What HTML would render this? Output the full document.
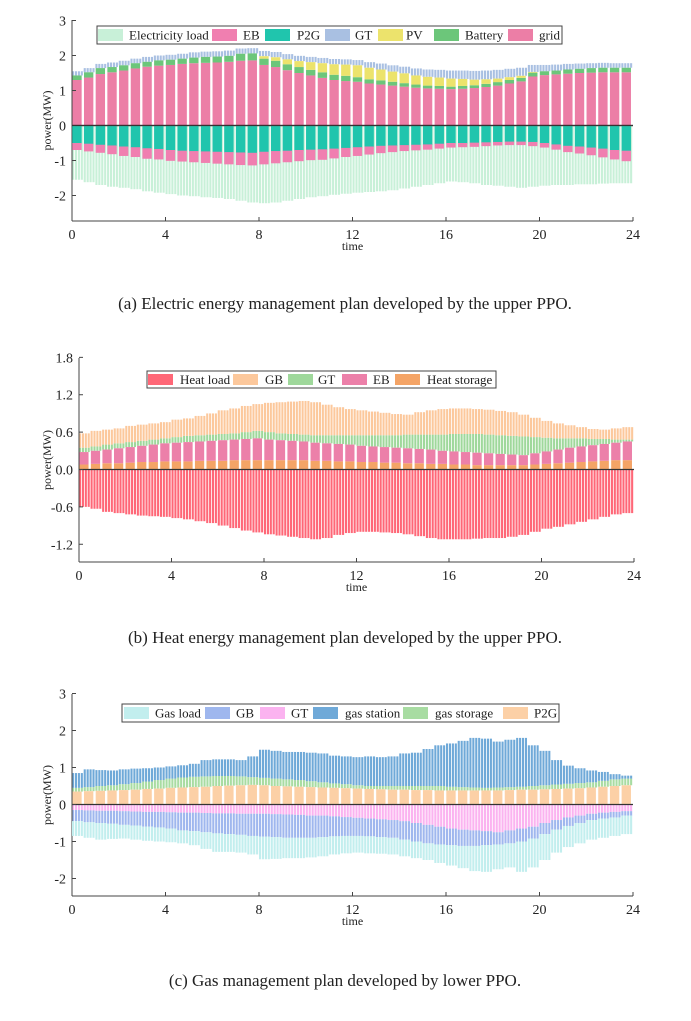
<!DOCTYPE html>
<html><head><meta charset="utf-8"><style>
html,body{margin:0;padding:0;background:#fff;}
svg text{font-family:"Liberation Serif",serif;fill:#222;}
</style></head><body>
<svg id="fig" width="691" height="1016" viewBox="0 0 691 1016" xmlns="http://www.w3.org/2000/svg"></svg>
<script>
// ---------- Chart (a) data: half-hourly values (MW) ----------
const ticksX = [0,4,8,12,16,20,24];
const aTicksY = [3,2,1,0,-1,-2];
const aGrid = [1.30,1.37,1.47,1.52,1.57,1.63,1.68,1.71,1.73,1.76,1.78,1.79,1.80,1.82,1.85,1.86,1.73,1.67,1.58,1.50,1.43,1.36,1.30,1.27,1.25,1.20,1.17,1.14,1.11,1.08,1.06,1.05,1.04,1.05,1.07,1.10,1.14,1.20,1.26,1.40,1.44,1.46,1.48,1.50,1.51,1.52,1.52,1.52];
const aBattery = [0.13,0.15,0.17,0.15,0.15,0.15,0.14,0.15,0.15,0.15,0.16,0.17,0.17,0.17,0.20,0.20,0.18,0.18,0.17,0.17,0.16,0.16,0.15,0.15,0.13,0.12,0.12,0.11,0.10,0.09,0.08,0.08,0.07,0.08,0.08,0.09,0.10,0.10,0.10,0.11,0.11,0.11,0.12,0.12,0.13,0.13,0.13,0.13];
const aPV = [0,0,0,0,0,0,0,0,0,0,0,0,0,0,0,0,0.07,0.10,0.14,0.17,0.22,0.26,0.30,0.32,0.34,0.33,0.31,0.29,0.28,0.26,0.25,0.24,0.23,0.20,0.16,0.13,0.10,0.08,0.06,0.02,0,0,0,0,0,0,0,0];
const aGT = [0.12,0.12,0.12,0.13,0.13,0.13,0.14,0.14,0.14,0.14,0.15,0.15,0.15,0.15,0.15,0.15,0.15,0.15,0.15,0.15,0.15,0.15,0.15,0.15,0.15,0.16,0.17,0.18,0.19,0.20,0.21,0.22,0.23,0.24,0.25,0.25,0.25,0.24,0.23,0.2,0.18,0.17,0.16,0.15,0.14,0.14,0.13,0.13];
const aP2G = [0.50,0.52,0.55,0.57,0.60,0.62,0.65,0.67,0.70,0.72,0.73,0.74,0.75,0.76,0.77,0.78,0.75,0.73,0.72,0.70,0.69,0.68,0.66,0.64,0.62,0.60,0.58,0.57,0.56,0.55,0.54,0.52,0.50,0.50,0.49,0.48,0.47,0.46,0.46,0.47,0.50,0.54,0.58,0.60,0.63,0.66,0.70,0.72];
const aEB = [0.20,0.22,0.23,0.25,0.27,0.28,0.30,0.30,0.31,0.31,0.32,0.33,0.34,0.35,0.36,0.36,0.36,0.35,0.33,0.32,0.30,0.30,0.28,0.26,0.25,0.23,0.21,0.19,0.17,0.16,0.15,0.14,0.13,0.12,0.12,0.11,0.10,0.10,0.10,0.12,0.13,0.15,0.18,0.20,0.22,0.25,0.27,0.30];
const aLoad = [1.55,1.62,1.70,1.75,1.78,1.82,1.88,1.92,1.96,2.00,2.02,2.05,2.07,2.10,2.15,2.20,2.22,2.20,2.15,2.10,2.05,2.02,1.98,1.95,1.92,1.90,1.88,1.85,1.80,1.75,1.70,1.65,1.60,1.62,1.65,1.70,1.72,1.75,1.78,1.75,1.72,1.70,1.70,1.68,1.68,1.66,1.65,1.65];

// ---------- Chart (b) data ----------
const bTicksY = [1.8,1.2,0.6,0.0,-0.6,-1.2];
const bStorage = [0.08,0.09,0.10,0.10,0.11,0.12,0.12,0.13,0.13,0.13,0.14,0.14,0.14,0.15,0.15,0.15,0.15,0.15,0.15,0.15,0.14,0.14,0.13,0.13,0.12,0.12,0.11,0.11,0.10,0.10,0.09,0.09,0.08,0.08,0.07,0.07,0.07,0.07,0.07,0.08,0.09,0.10,0.11,0.12,0.13,0.14,0.15,0.15];
const bEB = [0.20,0.21,0.22,0.24,0.25,0.26,0.28,0.29,0.30,0.31,0.31,0.32,0.33,0.33,0.34,0.35,0.33,0.32,0.31,0.30,0.29,0.28,0.28,0.27,0.26,0.25,0.25,0.24,0.24,0.23,0.23,0.21,0.21,0.20,0.20,0.19,0.18,0.17,0.16,0.18,0.20,0.22,0.24,0.25,0.26,0.27,0.28,0.30];
const bGT = [0.07,0.07,0.08,0.08,0.08,0.08,0.08,0.08,0.09,0.10,0.10,0.10,0.10,0.10,0.11,0.12,0.12,0.11,0.11,0.11,0.12,0.13,0.14,0.15,0.17,0.18,0.19,0.20,0.22,0.23,0.24,0.26,0.28,0.29,0.30,0.30,0.30,0.30,0.30,0.26,0.22,0.18,0.15,0.13,0.10,0.08,0.05,0.03];
const bGB = [0.23,0.25,0.24,0.24,0.26,0.26,0.26,0.26,0.28,0.28,0.31,0.34,0.38,0.40,0.42,0.43,0.47,0.50,0.52,0.54,0.53,0.49,0.45,0.42,0.40,0.38,0.36,0.34,0.32,0.36,0.39,0.41,0.41,0.41,0.40,0.40,0.39,0.38,0.35,0.31,0.27,0.24,0.21,0.18,0.16,0.15,0.18,0.20];
const bLoad = [0.60,0.63,0.68,0.70,0.72,0.74,0.75,0.76,0.78,0.80,0.83,0.86,0.90,0.94,0.98,1.01,1.04,1.06,1.08,1.10,1.12,1.10,1.05,1.02,1.00,1.00,1.01,1.02,1.04,1.07,1.10,1.12,1.12,1.12,1.11,1.10,1.10,1.08,1.05,1.00,0.95,0.92,0.88,0.84,0.80,0.76,0.72,0.70];

// ---------- Chart (c) data ----------
const cTicksY = [3,2,1,0,-1,-2];
const cP2G = [0.35,0.36,0.37,0.38,0.39,0.40,0.42,0.43,0.45,0.46,0.47,0.48,0.50,0.51,0.52,0.53,0.52,0.50,0.49,0.48,0.47,0.46,0.45,0.44,0.43,0.42,0.41,0.40,0.40,0.39,0.39,0.38,0.38,0.38,0.38,0.38,0.38,0.39,0.40,0.40,0.41,0.42,0.43,0.44,0.46,0.48,0.50,0.52];
const cStorage = [0.10,0.11,0.13,0.14,0.16,0.18,0.20,0.23,0.25,0.27,0.28,0.28,0.27,0.26,0.24,0.21,0.20,0.20,0.19,0.18,0.16,0.14,0.12,0.11,0.09,0.08,0.09,0.10,0.10,0.11,0.11,0.12,0.10,0.09,0.08,0.07,0.08,0.08,0.08,0.10,0.11,0.12,0.13,0.14,0.14,0.16,0.18,0.18];
const cStation = [0.40,0.48,0.43,0.40,0.40,0.39,0.36,0.34,0.33,0.33,0.35,0.44,0.45,0.45,0.44,0.56,0.76,0.75,0.74,0.76,0.77,0.78,0.75,0.75,0.76,0.80,0.78,0.80,0.88,0.90,1.00,1.10,1.17,1.25,1.34,1.33,1.24,1.28,1.32,1.10,0.93,0.66,0.49,0.40,0.32,0.24,0.14,0.08];
const cGT = [0.15,0.16,0.17,0.17,0.18,0.19,0.20,0.20,0.21,0.22,0.22,0.23,0.24,0.24,0.25,0.25,0.25,0.26,0.27,0.28,0.30,0.30,0.32,0.34,0.36,0.38,0.40,0.42,0.45,0.50,0.55,0.60,0.65,0.68,0.70,0.72,0.75,0.70,0.65,0.60,0.50,0.42,0.35,0.30,0.25,0.22,0.20,0.18];
const cGB = [0.30,0.32,0.33,0.35,0.37,0.38,0.40,0.42,0.44,0.48,0.50,0.52,0.54,0.56,0.57,0.60,0.62,0.62,0.63,0.62,0.60,0.58,0.54,0.51,0.49,0.48,0.48,0.48,0.50,0.50,0.50,0.48,0.45,0.44,0.42,0.38,0.33,0.35,0.35,0.32,0.30,0.26,0.23,0.20,0.17,0.16,0.15,0.12];
const cLoad = [0.85,0.90,0.95,0.93,0.92,0.95,0.98,1.00,1.02,1.05,1.10,1.20,1.28,1.28,1.30,1.35,1.48,1.47,1.45,1.45,1.43,1.40,1.35,1.32,1.30,1.32,1.33,1.35,1.40,1.45,1.50,1.58,1.65,1.72,1.80,1.82,1.75,1.70,1.82,1.70,1.50,1.30,1.15,1.05,0.95,0.90,0.85,0.80];

const NS = "http://www.w3.org/2000/svg";
const svg = document.getElementById('fig');
function mk(tag, attrs, parent){
  const e = document.createElementNS(NS, tag);
  for (const k in attrs) e.setAttribute(k, attrs[k]);
  (parent||svg).appendChild(e);
  return e;
}

function drawChart(cfg){
  const g = mk('g', {});
  
  
  const xs = t => cfg.x0 + (cfg.x1 - cfg.x0) * t / 24;
  const ys = v => cfg.yZero - v * cfg.ppu;
  const base = {pos: new Array(48).fill(0), neg: new Array(48).fill(0)};
  const layers = [];
  cfg.series.forEach(s => {
    const key = s.sign > 0 ? 'pos' : 'neg';
    const lo = base[key].slice();
    s.vals.forEach((v,i) => base[key][i] += v);
    layers.push({s, lo, hi: base[key].slice()});
  });
  const ordered = layers.filter(l => !l.s.wide).concat(layers.filter(l => l.s.wide));
  ordered.forEach(l => {
    const sg = mk('g', {fill: l.s.color}, g);
    
    
    l.s.vals.forEach((v, i) => {
      const sgn = l.s.sign;
      const y1 = ys(sgn * l.lo[i]), y2 = ys(sgn * l.hi[i]);
      const top = Math.min(y1, y2), h = Math.abs(y2 - y1);
      if (h <= 0) return;
      const t = i * 0.5;
      if (l.s.wide) {
        const r = mk('rect', {x: xs(t) + 0.3, y: top, width: xs(0.4) - xs(0) , height: h}, sg);
        
        
      } else {
        for (let k = 0; k < 4; k++) {
          const r = mk('rect', {x: xs(t + k * 0.125), y: top, width: (xs(0.125) - xs(0)) * 0.72, height: h}, sg);
          
          
        }
      }
    });
  });
  const z = mk('line', {x1: cfg.x0, x2: cfg.x1, y1: cfg.yZero, y2: cfg.yZero, stroke: '#333', 'stroke-width': 1.2}, g);
  
  
  const ax = mk('g', {stroke: '#444', 'stroke-width': 1}, g);
  
  
  mk('line', {x1: cfg.x0, x2: cfg.x0, y1: cfg.yTop, y2: cfg.yBot}, ax);
  mk('line', {x1: cfg.x0, x2: cfg.x1, y1: cfg.yBot, y2: cfg.yBot}, ax);
  cfg.ticksY.forEach(v => {
    mk('line', {x1: cfg.x0, x2: cfg.x0 + 4, y1: ys(v), y2: ys(v)}, ax);
    const tx = mk('text', {x: cfg.x0 - 6, y: ys(v) + 5, 'text-anchor': 'end', 'font-size': 14}, g);
    tx.textContent = cfg.fmt(v);
    
    
  });
  ticksX.forEach(t => {
    mk('line', {x1: xs(t), x2: xs(t), y1: cfg.yBot, y2: cfg.yBot - 4}, ax);
    const tx = mk('text', {x: xs(t), y: cfg.yBot + 18, 'text-anchor': 'middle', 'font-size': 14}, g);
    tx.textContent = t;
    
    
  });
  const xt = mk('text', {x: (cfg.x0 + cfg.x1) / 2, y: cfg.yBot + 29, 'text-anchor': 'middle', 'font-size': 12}, g);
  xt.textContent = 'time';
  
  
  const ymid = (cfg.yTop + cfg.yBot) / 2;
  const yt = mk('text', {x: 51, y: ymid, 'text-anchor': 'middle', 'font-size': 12, transform: `rotate(-90 51 ${ymid})`}, g);
  yt.textContent = 'power(MW)';
  
  
  const lg = mk('g', {}, g);
  
  
  mk('rect', {x: cfg.leg[0], y: cfg.leg[1], width: cfg.leg[2], height: cfg.leg[3], fill: '#fff', stroke: '#444', 'stroke-width': 1}, lg);
  cfg.legItems.forEach(it => {
    const e = mk('g', {}, lg);
    
    
    mk('rect', {x: it[0], y: cfg.leg[1] + 3, width: 25, height: cfg.leg[3] - 6, fill: it[2]}, e);
    const tx = mk('text', {x: it[1], y: cfg.leg[1] + cfg.leg[3] / 2 + 4.5, 'font-size': 13}, e);
    tx.textContent = it[3];
  });
  const cap = mk('text', {x: 345, y: cfg.capY, 'text-anchor': 'middle', 'font-size': 17}, g);
  cap.textContent = cfg.caption;
  
  
}

const C = {load:'#c8f0d8', EB:'#f07fb0', P2G:'#20c5ad', GT:'#a9c0e2', PV:'#ece36c', bat:'#6cc67a', grid:'#ec7ea6'};
drawChart({
  name: 'electric-chart', x0: 72, x1: 633, yTop: 20, yBot: 221, yZero: 125.5, ppu: 35,
  ticksY: aTicksY, fmt: v => String(v),
  series: [
    {vals: aLoad, color: C.load, wide: false, sign: -1, name: 'electricity-load'},
    {vals: aGrid, color: C.grid, wide: true, sign: 1, name: 'grid'},
    {vals: aBattery, color: C.bat, wide: true, sign: 1, name: 'battery'},
    {vals: aPV, color: C.PV, wide: true, sign: 1, name: 'pv'},
    {vals: aGT, color: C.GT, wide: false, sign: 1, name: 'gt'},
  ],
  leg: [97, 26, 465, 18],
  legItems: [[98,129,C.load,'Electricity load'],[212,243,C.EB,'EB'],[265,297,C.P2G,'P2G'],[325,355,C.GT,'GT'],[378,406,C.PV,'PV'],[434,465,C.bat,'Battery'],[508,539,C.grid,'grid']],
  capY: 309, caption: '(a) Electric energy management plan developed by the upper PPO.'
});
(function(){
  const x0=72,x1=633,yZero=125.5,ppu=35;
  const xs=t=>x0+(x1-x0)*t/24, ys=v=>yZero-v*ppu;
  const g = mk('g', {});
  
  
  aP2G.forEach((v,i)=>{
    const r = mk('rect',{x:xs(i*0.5)+0.3,y:yZero+0.6,width:xs(0.4)-xs(0),height:v*ppu,fill:C.P2G},g);
    
    
    const r2 = mk('rect',{x:xs(i*0.5)+0.3,y:ys(-v),width:xs(0.4)-xs(0),height:aEB[i]*ppu,fill:C.EB},g);
    
    
  });
  mk('line',{x1:x0,x2:x1,y1:yZero,y2:yZero,stroke:'#333','stroke-width':1.2},g);
})();

const H = {load:'#ff6777', GB:'#fcc89c', GT:'#9fd89b', EB:'#ec80a9', st:'#f4a466'};
drawChart({
  name: 'heat-chart', x0: 79, x1: 634, yTop: 358, yBot: 562, yZero: 469.5, ppu: 62.3,
  ticksY: bTicksY, fmt: v => v.toFixed(1),
  series: [
    {vals: bLoad, color: H.load, wide: false, sign: -1, name: 'heat-load'},
    {vals: bStorage, color: H.st, wide: true, sign: 1, name: 'heat-storage'},
    {vals: bEB, color: H.EB, wide: true, sign: 1, name: 'eb'},
    {vals: bGT, color: H.GT, wide: false, sign: 1, name: 'gt'},
    {vals: bGB, color: H.GB, wide: false, sign: 1, name: 'gb'},
  ],
  leg: [147, 371, 349, 17],
  legItems: [[148,180,H.load,'Heat load'],[233,265,H.GB,'GB'],[288,318,H.GT,'GT'],[342,373,H.EB,'EB'],[395,427,H.st,'Heat storage']],
  capY: 643, caption: '(b) Heat energy management plan developed by the upper PPO.'
});

const G = {load:'#c2eeee', GB:'#9fb7ee', GT:'#fbb3f0', st2:'#6fa9d8', st:'#a8dca2', P2G:'#fcd0a6'};
drawChart({
  name: 'gas-chart', x0: 72, x1: 633, yTop: 694, yBot: 896, yZero: 804.5, ppu: 37,
  ticksY: cTicksY, fmt: v => String(v),
  series: [
    {vals: cP2G, color: G.P2G, wide: true, sign: 1, name: 'p2g'},
    {vals: cStorage, color: G.st, wide: false, sign: 1, name: 'gas-storage'},
    {vals: cStation, color: G.st2, wide: false, sign: 1, name: 'gas-station'},
    {vals: cGT, color: G.GT, wide: false, sign: -1, name: 'gt'},
    {vals: cGB, color: G.GB, wide: false, sign: -1, name: 'gb'},
  ],
  leg: [122, 704, 437, 18],
  legItems: [[124,155,G.load,'Gas load'],[205,236,G.GB,'GB'],[260,291,G.GT,'GT'],[313,345,G.st2,'gas station'],[403,435,G.st,'gas storage'],[503,534,G.P2G,'P2G']],
  capY: 986, caption: '(c) Gas management plan developed by lower PPO.'
});
(function(){
  const x0=72,x1=633,yZero=804.5,ppu=37;
  const xs=t=>x0+(x1-x0)*t/24;
  const g = mk('g', {fill: G.load});
  
  
  cLoad.forEach((v,i)=>{
    const lo = cGT[i] + cGB[i];
    if (v <= lo) return;
    for (let k=0;k<4;k++){
      const r = mk('rect',{x:xs(i*0.5+k*0.125),y:yZero+lo*ppu,width:(xs(0.125)-xs(0))*0.72,height:(v-lo)*ppu},g);
      
      
    }
  });
})();
</script>
</body></html>
